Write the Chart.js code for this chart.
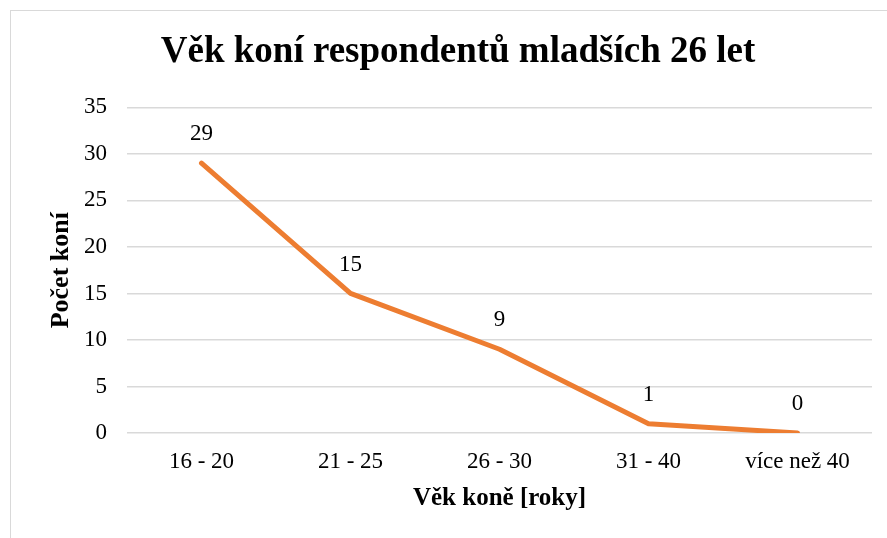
<!DOCTYPE html>
<html>
<head>
<meta charset="utf-8">
<script src="https://cdn.jsdelivr.net/npm/chart.js@4"></script>
<style>
    body { margin: 0; background: #fff; }
    .frame { position: absolute; left: 10px; top: 10px; width: 900px; height: 560px; border: 1px solid #d9d9d9; }
    #chart { position: absolute; left: 0; top: 0; }
</style>
</head>
<body>
<div class="frame"></div>
<canvas id="chart" width="887" height="538"></canvas>
<script>
// hodnoty z grafu
const categories = ['16 - 20', '21 - 25', '26 - 30', '31 - 40', 'více než 40'];
const horseCounts = [29, 15, 9, 1, 0];
const yTicks = [0, 5, 10, 15, 20, 25, 30, 35];

const SERIF = '"Liberation Serif", "Times New Roman", serif';

// popisky hodnot nad body
const valueLabels = {
    id: 'valueLabels',
    afterDatasetsDraw(chart) {
        const ctx = chart.ctx;
        const meta = chart.getDatasetMeta(0);
        ctx.save();
        ctx.font = `23px ${SERIF}`;
        ctx.fillStyle = '#000';
        ctx.textAlign = 'center';
        ctx.textBaseline = 'middle';
        meta.data.forEach((pt, i) => {
            ctx.fillText(String(horseCounts[i]), pt.x, pt.y - 29);
        });
        ctx.restore();
    }
};

new Chart(document.getElementById('chart'), {
    type: 'line',
    data: {
        labels: categories,
        datasets: [{
            label: 'Počet koní',
            data: horseCounts,
            borderColor: '#ED7D31',
            borderWidth: 5,
            pointRadius: 0,
            borderCapStyle: 'round',
            borderJoinStyle: 'round',
            tension: 0
        }]
    },
    options: {
        responsive: false,
        animation: false,
        layout: { padding: { left: 44, right: 15, top: 0, bottom: 0 } },
        plugins: {
            legend: { display: false },
            tooltip: { enabled: false },
            title: {
                display: true,
                text: 'Věk koní respondentů mladších 26 let',
                color: '#000',
                font: { family: SERIF, size: 37, weight: 'bold' },
                padding: { top: 30, bottom: 33 }
            }
        },
        scales: {
            x: {
                offset: true,
                grid: { display: false, drawTicks: false },
                border: { display: false },
                ticks: { color: '#000', padding: 15, font: { family: SERIF, size: 23 } },
                title: {
                    display: true,
                    text: 'Věk koně [roky]',
                    color: '#000',
                    font: { family: SERIF, size: 25, weight: 'bold' },
                    padding: { top: 0, bottom: 24 }
                },
                afterFit(scale) { scale.height = 105; }
            },
            y: {
                min: 0,
                max: 35,
                afterBuildTicks(scale) { scale.ticks = yTicks.map(v => ({ value: v })); },
                grid: { color: '#d9d9d9', lineWidth: 1.5, drawTicks: false },
                border: { display: false },
                ticks: { color: '#000', padding: 20, font: { family: SERIF, size: 23 } },
                title: {
                    display: true,
                    text: 'Počet koní',
                    color: '#000',
                    font: { family: SERIF, size: 26, weight: 'bold' },
                    padding: { top: 2, bottom: 0 }
                },
                afterFit(scale) { scale.width = 83; }
            }
        }
    },
    plugins: [valueLabels]
});
</script>
</body>
</html>
